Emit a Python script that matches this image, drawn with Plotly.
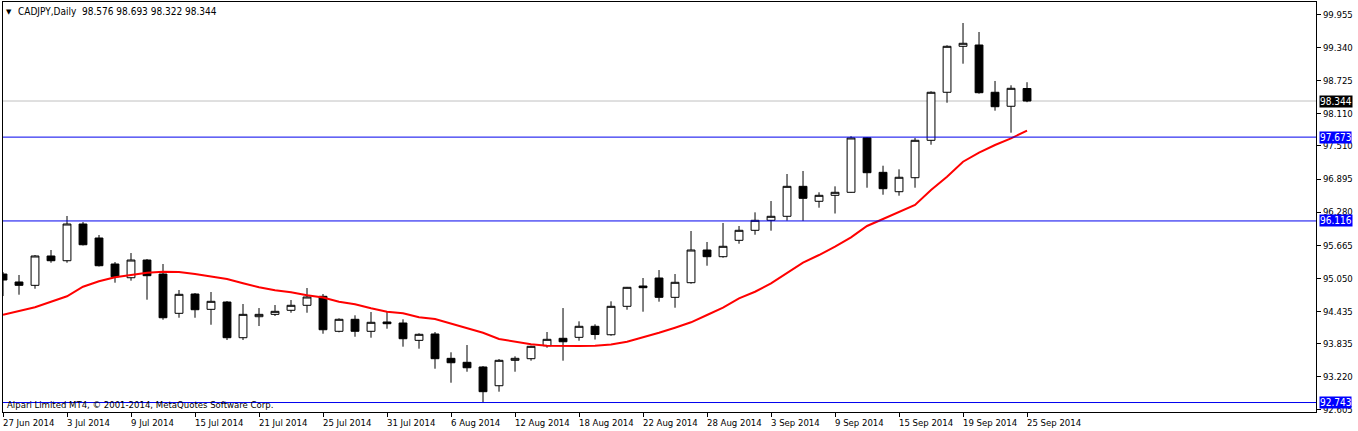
import plotly.graph_objects as go

dates = [
    "2014-06-27", "2014-06-30", "2014-07-01", "2014-07-02", "2014-07-03", "2014-07-04",
    "2014-07-07", "2014-07-08", "2014-07-09", "2014-07-10", "2014-07-11",
    "2014-07-14", "2014-07-15", "2014-07-16", "2014-07-17", "2014-07-18",
    "2014-07-21", "2014-07-22", "2014-07-23", "2014-07-24", "2014-07-25",
    "2014-07-28", "2014-07-29", "2014-07-30", "2014-07-31", "2014-08-01",
    "2014-08-04", "2014-08-05", "2014-08-06", "2014-08-07", "2014-08-08",
    "2014-08-11", "2014-08-12", "2014-08-13", "2014-08-14", "2014-08-15",
    "2014-08-18", "2014-08-19", "2014-08-20", "2014-08-21", "2014-08-22",
    "2014-08-25", "2014-08-26", "2014-08-27", "2014-08-28", "2014-08-29",
    "2014-09-01", "2014-09-02", "2014-09-03", "2014-09-04", "2014-09-05",
    "2014-09-08", "2014-09-09", "2014-09-10", "2014-09-11", "2014-09-12",
    "2014-09-15", "2014-09-16", "2014-09-17", "2014-09-18", "2014-09-19",
    "2014-09-22", "2014-09-23", "2014-09-24", "2014-09-25",
]

opens = [
    95.130, 94.982, 94.920, 95.465, 95.377, 96.059, 95.799, 95.316, 95.061, 95.390,
    95.130, 94.400, 94.759, 94.474, 94.610, 93.947, 94.337, 94.381, 94.456, 94.549,
    94.716, 94.066, 94.289, 94.066, 94.239, 94.220, 93.898, 94.016, 93.564, 93.490,
    93.403, 93.055, 93.527, 93.557, 93.798, 93.936, 93.954, 94.159, 94.002, 94.530,
    94.907, 95.056, 94.697, 94.969, 95.576, 95.452, 95.756, 95.942, 96.128, 96.202,
    96.759, 96.481, 96.592, 96.648, 97.660, 97.019, 96.659, 96.919, 97.614, 98.506,
    99.360, 99.384, 98.506, 98.246, 98.576,
]
highs = [
    95.167, 95.112, 95.483, 95.576, 96.208, 96.096, 95.855, 95.353, 95.520, 95.409,
    95.316, 94.833, 94.777, 94.796, 94.628, 94.573, 94.498, 94.554, 94.647, 94.870,
    94.759, 94.307, 94.363, 94.424, 94.424, 94.289, 94.029, 94.053, 93.676, 93.811,
    93.421, 93.551, 93.601, 93.798, 94.053, 94.498, 94.251, 94.196, 94.623, 94.890,
    95.056, 95.204, 95.130, 95.929, 95.725, 96.078, 96.022, 96.276, 96.486, 96.988,
    97.044, 96.648, 96.759, 97.690, 97.673, 97.142, 97.075, 97.657, 98.524, 99.379,
    99.793, 99.626, 98.716, 98.636, 98.693,
]
lows = [
    94.721, 94.746, 94.857, 95.340, 95.340, 95.660, 95.270, 94.969, 95.006, 94.653,
    94.281, 94.318, 94.318, 94.188, 93.904, 93.904, 94.164, 94.350, 94.411, 94.411,
    94.021, 94.047, 93.965, 93.947, 94.114, 93.780, 93.743, 93.371, 93.111, 93.315,
    92.743, 92.944, 93.315, 93.520, 93.761, 93.520, 93.891, 93.913, 93.984, 94.467,
    94.430, 94.616, 94.504, 94.950, 95.284, 95.433, 95.693, 95.860, 95.935, 96.120,
    96.116, 96.362, 96.254, 96.640, 96.733, 96.603, 96.585, 96.733, 97.532, 98.312,
    99.037, 98.480, 98.164, 97.755, 98.322,
]
closes = [
    95.019, 94.920, 95.465, 95.377, 96.059, 95.674, 95.284, 95.080, 95.390, 95.099,
    94.318, 94.753, 94.467, 94.623, 93.947, 94.381, 94.381, 94.437, 94.549, 94.703,
    94.095, 94.289, 94.066, 94.233, 94.207, 93.928, 94.010, 93.557, 93.482, 93.389,
    92.944, 93.527, 93.564, 93.787, 93.917, 93.872, 94.159, 94.006, 94.530, 94.883,
    94.876, 94.697, 94.976, 95.576, 95.452, 95.645, 95.942, 96.128, 96.202, 96.759,
    96.536, 96.592, 96.648, 97.657, 97.012, 96.715, 96.927, 97.614, 98.506, 99.360,
    99.416, 98.498, 98.238, 98.580, 98.344,
]
ma_values = [
    94.374, 94.437, 94.512, 94.616, 94.716, 94.894, 94.995, 95.069, 95.117, 95.154,
    95.173, 95.167, 95.130, 95.087, 95.037, 94.957, 94.883, 94.827, 94.790, 94.734,
    94.694, 94.616, 94.567, 94.493, 94.430, 94.400, 94.326, 94.294, 94.214, 94.121,
    94.040, 93.923, 93.867, 93.824, 93.798, 93.793, 93.793, 93.798, 93.820, 93.872,
    93.954, 94.040, 94.133, 94.233, 94.369, 94.504, 94.679, 94.801, 94.957, 95.143,
    95.340, 95.483, 95.637, 95.812, 96.022, 96.152, 96.282, 96.412, 96.691, 96.938,
    97.216, 97.384, 97.527, 97.651, 97.792,
]

y_tick_values = [99.955, 99.340, 98.725, 98.110, 97.510, 96.895, 96.280,
                 95.665, 95.050, 94.435, 93.835, 93.220, 92.605]
x_tick_dates = ["2014-06-27", "2014-07-03", "2014-07-09", "2014-07-15", "2014-07-21",
                "2014-07-25", "2014-07-31", "2014-08-06", "2014-08-12", "2014-08-18",
                "2014-08-22", "2014-08-28", "2014-09-03", "2014-09-09", "2014-09-15",
                "2014-09-19", "2014-09-25"]
x_tick_labels = ["27 Jun 2014", "3 Jul 2014", "9 Jul 2014", "15 Jul 2014", "21 Jul 2014",
                 "25 Jul 2014", "31 Jul 2014", "6 Aug 2014", "12 Aug 2014", "18 Aug 2014",
                 "22 Aug 2014", "28 Aug 2014", "3 Sep 2014", "9 Sep 2014", "15 Sep 2014",
                 "19 Sep 2014", "25 Sep 2014"]
level_lines = [97.673, 96.116, 92.743]
bid_price = 98.344
title_text = "CADJPY,Daily  98.576 98.693 98.322 98.344"
footer_text = "Alpari Limited MT4, © 2001-2014, MetaQuotes Software Corp."

FONT = "DejaVu Sans Condensed, Liberation Sans, Arial, sans-serif"

fig = go.Figure()
fig.add_trace(go.Candlestick(
    x=dates, open=opens, high=highs, low=lows, close=closes,
    increasing=dict(line=dict(color="black", width=1), fillcolor="white"),
    decreasing=dict(line=dict(color="black", width=1), fillcolor="black"),
    whiskerwidth=0, showlegend=False, hoverinfo="skip",
))
fig.add_trace(go.Scatter(
    x=dates, y=ma_values, mode="lines",
    line=dict(color="#ff0000", width=2), showlegend=False, hoverinfo="skip",
))

shapes = [dict(type="line", xref="paper", x0=0, x1=1, yref="y", y0=bid_price, y1=bid_price,
               line=dict(color="#c0c0c0", width=1), layer="below")]
for lv in level_lines:
    shapes.append(dict(type="line", xref="paper", x0=0, x1=1, yref="y", y0=lv, y1=lv,
                       line=dict(color="#0000ee", width=1)))

annotations = []
for d, lab in zip(x_tick_dates, x_tick_labels):
    annotations.append(dict(x=dates.index(d), xref="x", y=0, yref="paper", text=lab,
                            showarrow=False, xanchor="left", yanchor="top", yshift=-3,
                            xshift=-2, font=dict(family=FONT, size=9.5, color="black")))

def price_box(val, bg):
    return dict(x=1, xref="paper", y=val, yref="y", text=f"{val:.3f}", showarrow=False,
                xanchor="left", yanchor="middle", xshift=3, bgcolor=bg, borderpad=0,
                font=dict(family=FONT, size=10, color="white"))

annotations.append(price_box(bid_price, "black"))
for lv in level_lines:
    annotations.append(price_box(lv, "#0000ff"))

annotations.append(dict(x=0, xref="paper", y=1, yref="paper", text="▼", showarrow=False,
                        xanchor="left", yanchor="top", xshift=1, yshift=-4,
                        font=dict(family="DejaVu Sans", size=7, color="black")))
annotations.append(dict(x=0, xref="paper", y=1, yref="paper", text=title_text, showarrow=False,
                        xanchor="left", yanchor="top", xshift=13, yshift=-2,
                        font=dict(family=FONT, size=10, color="black")))
annotations.append(dict(x=0, xref="paper", y=0, yref="paper", text=footer_text, showarrow=False,
                        xanchor="left", yanchor="bottom", xshift=2, yshift=0,
                        font=dict(family=FONT, size=9.5, color="black")))

fig.update_layout(
    width=1358, height=431,
    margin=dict(l=3, r=42, t=2, b=19, pad=0),
    paper_bgcolor="white", plot_bgcolor="white",
    shapes=shapes, annotations=annotations,
    xaxis=dict(type="category", range=[0, 82.06], rangeslider=dict(visible=False),
               showgrid=False, zeroline=False, showline=True, linecolor="black", linewidth=1,
               mirror=True, ticks="outside", ticklen=4, tickcolor="black",
               tickvals=x_tick_dates, showticklabels=False, fixedrange=True),
    yaxis=dict(side="right", range=[92.567, 100.183], showgrid=False, zeroline=False,
               showline=True, linecolor="black", linewidth=1, mirror=True,
               ticks="outside", ticklen=4, tickcolor="black",
               tickvals=y_tick_values, ticktext=[f"{v:.3f}" for v in y_tick_values],
               tickfont=dict(family=FONT, size=9.5, color="black"), fixedrange=True),
)

fig.write_html("out.html")
